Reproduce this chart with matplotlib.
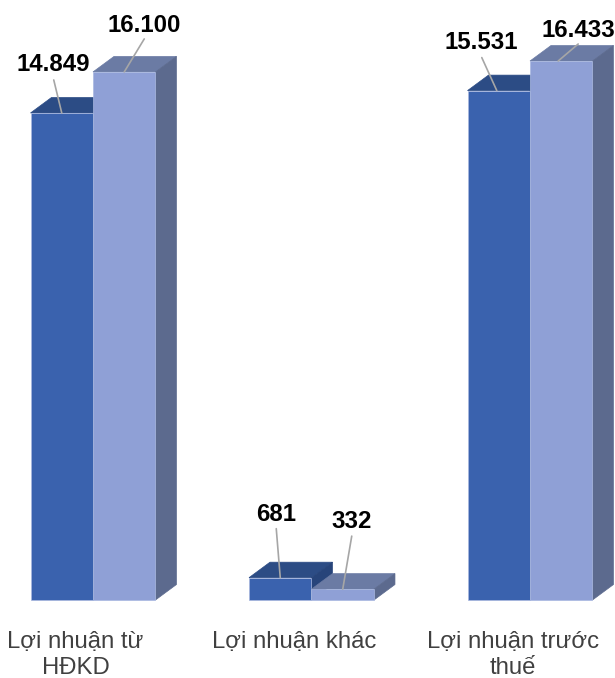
import matplotlib

matplotlib.use("Agg")
import matplotlib.pyplot as plt
from matplotlib.patches import Polygon

plt.rcParams["font.family"] = ["Liberation Sans", "DejaVu Sans"]

categories = ["Lợi nhuận từ\nHĐKD", "Lợi nhuận khác", "Lợi nhuận trước\nthuế"]
series_a = [14849, 681, 15531]
series_b = [16100, 332, 16433]

# front, top and side shades of each series
colors_a = ("#3A62AE", "#2C4C85", "#27447A")
colors_b = ("#8FA0D6", "#6B7BA4", "#5C6A8E")

# label and leader offsets from the bar top, in pixels
label_offsets_a = [(-8, 48), (-4, 63), (-18, 48)]
label_offsets_b = [(20, 46), (9, 68), (17, 31)]
leader_offsets_a = [(-8, 33), (-4, 49), (-15, 33)]
leader_offsets_b = [(20, 33), (9, 53), (20, 17)]
# leader foot position relative to the bar centre, in x units
leader_shift_a = [0, 0, -0.009]
leader_shift_b = [0, 0, -0.014]

BAR_WIDTH = 0.286
DEPTH_X = 0.096
DEPTH_Y = 472


def draw_bar(ax, left, value, colors):
    right = left + BAR_WIDTH
    faces = [
        ([(left, value), (left + DEPTH_X, value + DEPTH_Y),
          (right + DEPTH_X, value + DEPTH_Y), (right, value)], colors[1], colors[1]),
        ([(right, 0), (right + DEPTH_X, DEPTH_Y),
          (right + DEPTH_X, value + DEPTH_Y), (right, value)], colors[2], colors[2]),
        ([(left, 0), (right, 0), (right, value), (left, value)], colors[0], "#A9B8E0"),
    ]
    for points, color, edge in faces:
        ax.add_patch(Polygon(points, closed=True, facecolor=color,
                             edgecolor=edge, linewidth=0.5))


def draw_label(ax, x, shift, value, label_offset, leader_offset):
    ax.annotate("", xy=(x + shift, value), xytext=leader_offset, textcoords="offset pixels",
                arrowprops=dict(arrowstyle="-", color="#A6A6A6", linewidth=1.2,
                                shrinkA=0, shrinkB=0))
    text = f"{value:,}".replace(",", ".")
    ax.annotate(text, xy=(x, value), xytext=label_offset, textcoords="offset pixels",
                ha="center", va="center", fontsize=17.3, fontweight="bold", color="black")


fig = plt.figure(figsize=(6.15, 6.78), dpi=100)
ax = fig.add_axes([0, 0, 1, 1])
ax.set_xlim(-0.4256, 2.389)
ax.set_ylim(-2378, 18293)
ax.axis("off")

for i in range(len(categories)):
    draw_bar(ax, i - BAR_WIDTH, series_a[i], colors_a)
    draw_bar(ax, i, series_b[i], colors_b)

for i in range(len(categories)):
    draw_label(ax, i - BAR_WIDTH / 2, leader_shift_a[i], series_a[i],
               label_offsets_a[i], leader_offsets_a[i])
    draw_label(ax, i + BAR_WIDTH / 2, leader_shift_b[i], series_b[i],
               label_offsets_b[i], leader_offsets_b[i])
    ax.annotate(categories[i], xy=(i, 0), xytext=(-17.5, -30.5), textcoords="offset pixels",
                ha="center", va="top", fontsize=17.2, color="#404040", linespacing=1.28)

fig.savefig("out.png", dpi=100)
